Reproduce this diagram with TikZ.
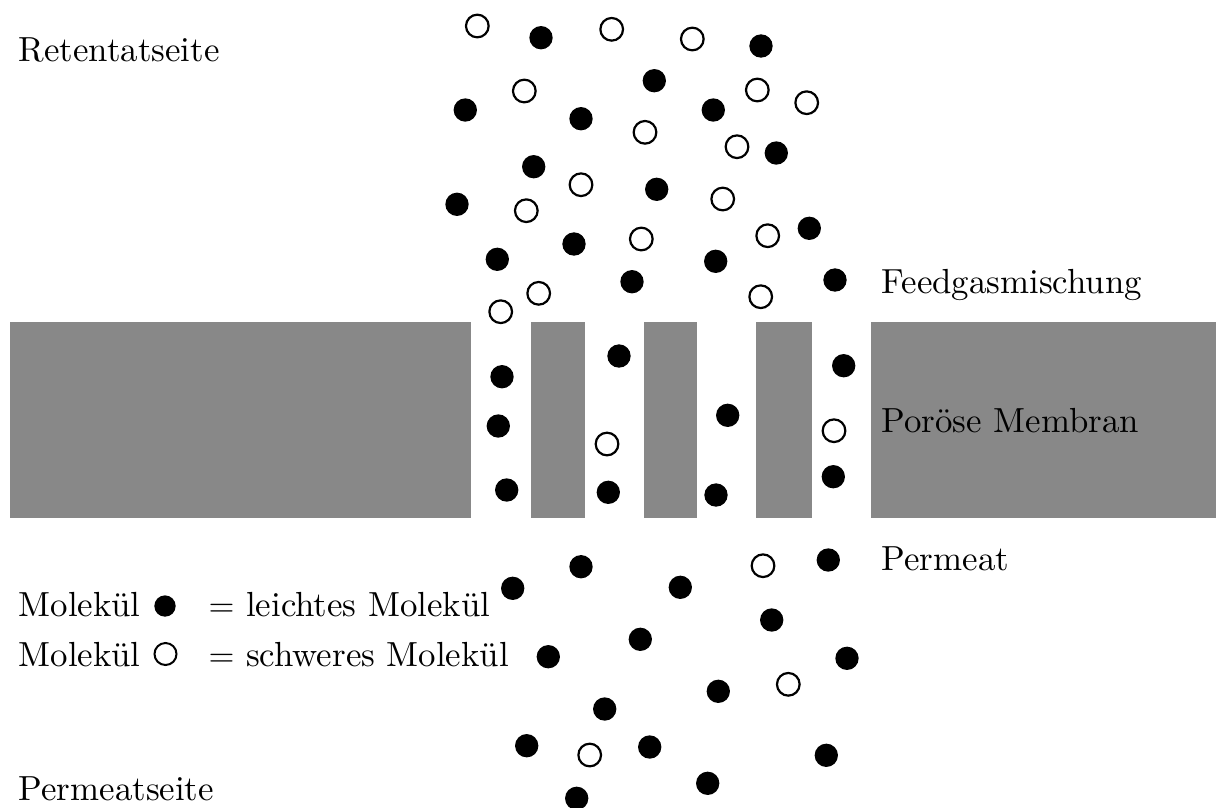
\documentclass[tikz,border=0pt]{standalone}
\usepackage{fontspec}
\definecolor{membrangrau}{RGB}{136,136,136}
\tikzset{
  light/.style={circle, fill=black, inner sep=0pt, minimum size=7pt},
  heavy/.style={circle, draw=black, fill=white, line width=0.66pt, inner sep=0pt, minimum size=6.8pt},
  legendlight/.style={circle, fill=black, inner sep=0pt, minimum size=6.4pt},
  legendheavy/.style={circle, draw=black, line width=0.6pt, inner sep=0pt, minimum size=6.6pt},
  wall/.style={fill=membrangrau, draw=none},
  label/.style={inner sep=0pt, anchor=base west, font=\fontsize{10.45}{12}\selectfont}
}
\begin{document}
\begin{tikzpicture}[x=0.3pt, y=-0.3pt]
  \useasboundingbox (0,0) rectangle (1216,807);

  % membrane segments with pores in between
  \fill[wall] (10,322) rectangle (471,518);
  \fill[wall] (530.5,322) rectangle (585,518);
  \fill[wall] (644,322) rectangle (697,518);
  \fill[wall] (756,322) rectangle (811.5,518);
  \fill[wall] (871,322) rectangle (1216,518);

  % light molecules
  \foreach \p [count=\i] in {
    (541,37.7),(761,46),(654.3,80.7),(465.3,110),(581,118.7),(713.3,110),
    (776.3,153),(533.7,166.7),(656.7,189.3),(457,204.3),(574,244),(809.3,228.3),
    (497.3,259.3),(715.7,261.3),(632,281.7),(835,280),
    (502,376.7),(498.3,426),(506.7,490),(619,356),(608.3,492.3),(727.7,415.3),
    (716,495),(843.7,365.7),(833.3,476.7),
    (512.7,588.3),(581,566.7),(680.3,587.3),(828.3,560),(771.7,620),(640.3,639.3),
    (548.3,656.7),(847,658.3),(718.3,691.3),(604.7,709),(526.7,745.7),(649.7,747),
    (826.3,755.3),(707.7,783.3),(576.7,798.3)}
    \node[light] (l\i) at \p {};

  % heavy molecules
  \foreach \p [count=\i] in {
    (477.3,26),(611.7,29.3),(692.3,39),(524.3,91),(757.3,90),(806.7,102.7),
    (645,132.3),(737,146.7),(581,184.7),(722.7,199),(526.3,210.7),(641.3,239),
    (767.7,235.7),(538.7,293.3),(760.7,296.7),(500.7,311.7),
    (607,444),(834,430.7),
    (763,565.7),(788.3,684.3),(589.7,755)}
    \node[heavy] (h\i) at \p {};

  % side labels
  \node[label] (retentat) at (18,61) {Retentatseite};
  \node[label] (permeatseite) at (18,800) {Permeatseite};
  \node[label] (feed) at (881,293) {Feedgasmischung};
  \node[label] (membran) at (881,432) {Poröse Membran};
  \node[label] (permeat) at (881,570) {Permeat};

  % legend
  \node[label] (leg1) at (18,616) {Molekül};
  \node[legendlight] (legdot1) at (165,606) {};
  \node[label] (legtxt1) at (208,616) {$=$ leichtes Molekül};
  \node[label] (leg2) at (18,666) {Molekül};
  \node[legendheavy] (legdot2) at (165.5,654) {};
  \node[label] (legtxt2) at (208,666) {$=$ schweres Molekül};
\end{tikzpicture}
\end{document}
